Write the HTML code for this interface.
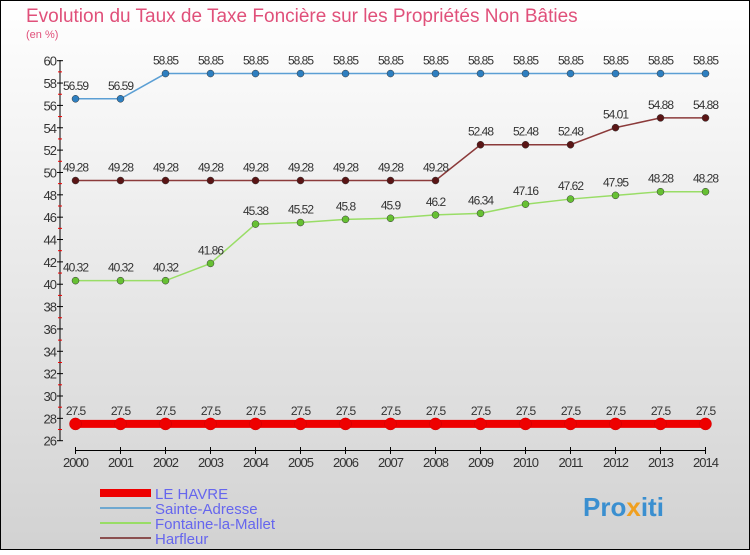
<!DOCTYPE html>
<html><head><meta charset="utf-8"><style>
body{margin:0;width:750px;height:550px;overflow:hidden;font-family:"Liberation Sans",sans-serif}
</style></head><body>
<svg width="750" height="550" xmlns="http://www.w3.org/2000/svg">
<defs><linearGradient id="bg" x1="0" y1="0" x2="0" y2="1"><stop offset="0" stop-color="#ffffff"/><stop offset="1" stop-color="#d2d2d2"/></linearGradient></defs>
<rect x="0.5" y="0.5" width="749" height="549" fill="url(#bg)" stroke="#000"/>
<text x="26" y="22" font-size="19" fill="#e0507a">Evolution du Taux de Taxe Foncière sur les Propriétés Non Bâties</text>
<text x="26" y="38" font-size="11" fill="#e0507a">(en %)</text>
<g id="axes"></g><g id="series"></g><g id="legend"></g>
<text x="583" y="516" font-size="26" font-weight="bold" fill="#3a8fd0">Pro<tspan fill="#f0a020">x</tspan>iti</text>
</svg>
<script>
const years=[2000,2001,2002,2003,2004,2005,2006,2007,2008,2009,2010,2011,2012,2013,2014];
const leHavre=[27.5,27.5,27.5,27.5,27.5,27.5,27.5,27.5,27.5,27.5,27.5,27.5,27.5,27.5,27.5];
const sainteAdresse=[56.59,56.59,58.85,58.85,58.85,58.85,58.85,58.85,58.85,58.85,58.85,58.85,58.85,58.85,58.85];
const fontaine=[40.32,40.32,40.32,41.86,45.38,45.52,45.8,45.9,46.2,46.34,47.16,47.62,47.95,48.28,48.28];
const harfleur=[49.28,49.28,49.28,49.28,49.28,49.28,49.28,49.28,49.28,52.48,52.48,52.48,54.01,54.88,54.88];
const yTicks=[26,28,30,32,34,36,38,40,42,44,46,48,50,52,54,56,58,60];
const NS="http://www.w3.org/2000/svg";
const xs=i=>75.5+i*45;
const ys=v=>440.7-(v-26)*(380/34);
function mk(p,tag,a){const e=document.createElementNS(NS,tag);for(const k in a)e.setAttribute(k,a[k]);p.appendChild(e);return e;}
const ax=document.getElementById('axes');
let l=mk(ax,'line',{x1:60,y1:60,x2:60,y2:441,stroke:'#000'});


l=mk(ax,'line',{x1:75.5,y1:450.5,x2:705.5,y2:450.5,stroke:'#000'});


yTicks.forEach(v=>{
 mk(ax,'line',{x1:57,x2:63,y1:ys(v),y2:ys(v),stroke:'#000'});
 if(v<60) mk(ax,'line',{x1:58,x2:62,y1:ys(v+1),y2:ys(v+1),stroke:'#e00'});
 const t=mk(ax,'text',{x:56,y:ys(v)+5,'font-size':13,'text-anchor':'end',fill:'#333','letter-spacing':'-1'});
 t.textContent=v;
 
 
});
years.forEach((y,i)=>{
 mk(ax,'line',{x1:xs(i),x2:xs(i),y1:447,y2:454,stroke:'#000'});
 const t=mk(ax,'text',{x:xs(i),y:467,'font-size':13,'text-anchor':'middle',fill:'#333','letter-spacing':'-1'});
 t.textContent=y;
 
 
});
const sg=document.getElementById('series');
const series=[
 {d:sainteAdresse,c:'#5b9fd4',dot:'#2e7fc0',w:1.5,r:3.5,name:'sainte-adresse'},
 {d:fontaine,c:'#99dd66',dot:'#66c033',w:1.5,r:3.5,name:'fontaine-la-mallet'},
 {d:harfleur,c:'#8b3a3a',dot:'#5a1515',w:1.5,r:3.5,name:'harfleur'},
 {d:leHavre,c:'#ee0000',dot:'#ee0000',w:8,r:6,name:'le-havre'}];
series.forEach(s=>{
 const g=mk(sg,'g',{});
 
 
 const p=mk(g,'polyline',{points:s.d.map((v,i)=>xs(i)+','+ys(v)).join(' '),fill:'none',stroke:s.c,'stroke-width':s.w});
 
 
 s.d.forEach((v,i)=>{
  const c=mk(g,'circle',{cx:xs(i),cy:ys(v),r:s.r,fill:s.dot,stroke:s.name==='le-havre'?'#c00':'#333','stroke-width':0.5});
  
  
  const t=mk(g,'text',{x:xs(i),y:ys(v)-9,'font-size':12,'text-anchor':'middle',fill:'#333','letter-spacing':'-1'});
  t.textContent=v;
  
  
 });
});
const lg=document.getElementById('legend');
[['LE HAVRE','#ee0000',8],['Sainte-Adresse','#6fa8d0',2],['Fontaine-la-Mallet','#99dd66',2],['Harfleur','#8b5050',2]].forEach((e,i)=>{
 const y=493+i*15;
 const ln=mk(lg,'line',{x1:100,x2:151,y1:y,y2:y,stroke:e[1],'stroke-width':e[2]});
 
 
 const t=mk(lg,'text',{x:155,y:y+6,'font-size':15,fill:'#6666ee'});
 t.textContent=e[0];
 
 
});
</script>
</body></html>
